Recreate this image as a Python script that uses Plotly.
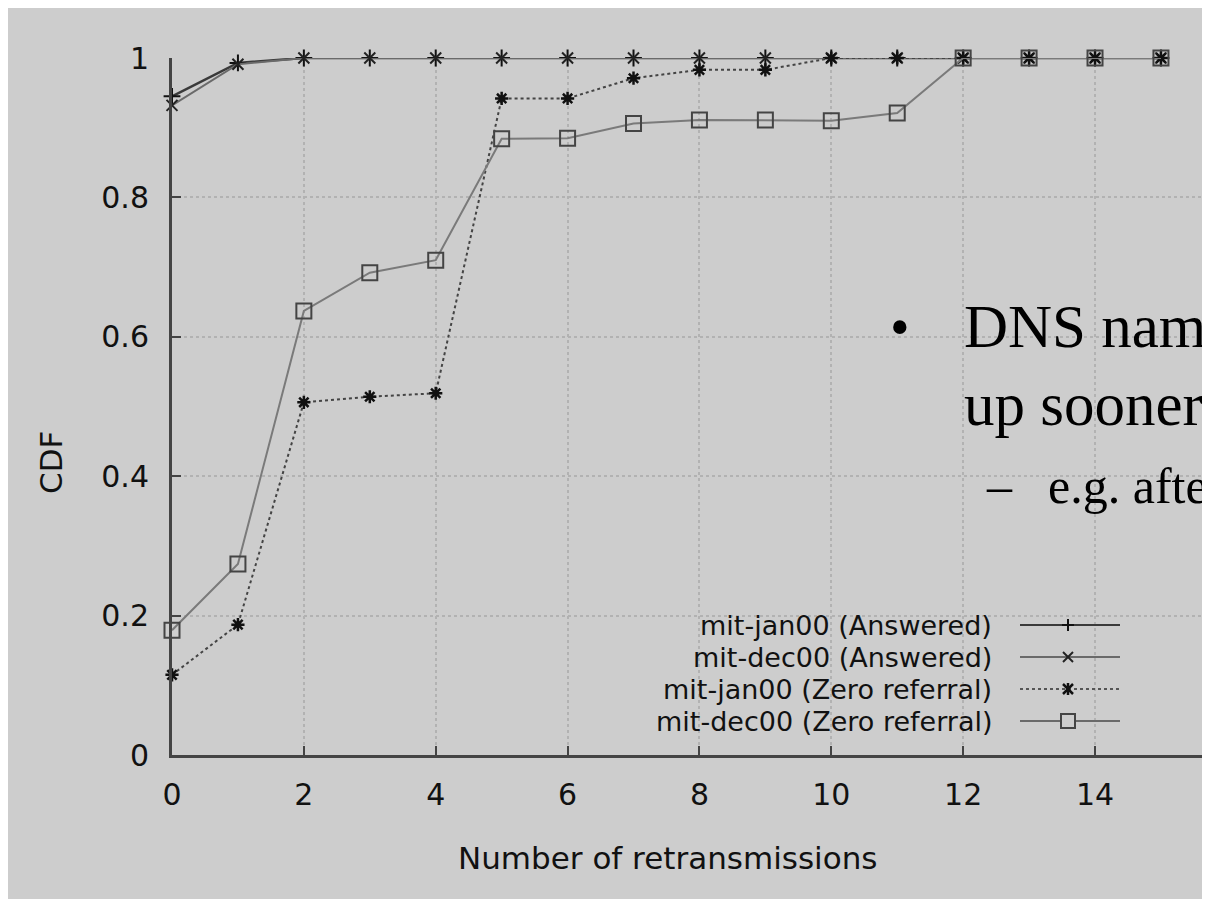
import plotly.graph_objects as go

# ---------------- data ----------------
retrans = list(range(16))
jan_answered = [0.945, 0.993, 1.0, 1.0, 1.0, 1.0, 1.0, 1.0, 1.0, 1.0, 1.0, 1.0, 1.0, 1.0, 1.0, 1.0]
dec_answered = [0.932, 0.991, 1.0, 1.0, 1.0, 1.0, 1.0, 1.0, 1.0, 1.0, 1.0, 1.0, 1.0, 1.0, 1.0, 1.0]
jan_zero = [0.115, 0.187, 0.506, 0.514, 0.519, 0.942, 0.942, 0.971, 0.983, 0.983, 1.0, 1.0, 1.0, 1.0, 1.0, 1.0]
dec_zero = [0.179, 0.274, 0.637, 0.692, 0.710, 0.884, 0.885, 0.906, 0.911, 0.911, 0.910, 0.921, 1.0, 1.0, 1.0, 1.0]

series_names = ["mit-jan00 (Answered)", "mit-dec00 (Answered)",
                "mit-jan00 (Zero referral)", "mit-dec00 (Zero referral)"]
x_ticks = [0, 2, 4, 6, 8, 10, 12, 14]
y_ticks = [0, 0.2, 0.4, 0.6, 0.8, 1.0]

# ---------------- geometry ----------------
# the page body adds an 8px offset; screen coords = figure coords + 8
OFF = 8
FW, FH = 1210, 899
L, T, B = 172, 58, 755          # plot-area edges in screen pixels
ML, MT = L - OFF, T - OFF       # margins in figure pixels
MB = FH - (B - OFF)
PW = FW - ML                    # plot width (right margin 0)
PH = B - T
XSCALE = 65.93                  # px per retransmission
BG = "#cdcdcd"
INK = "#111111"


def px(xs):
    return (xs - L) / PW


def py(ys):
    return (B - ys) / PH


fig = go.Figure()

fig.add_trace(go.Scatter(
    x=retrans, y=jan_answered, name=series_names[0], mode="lines+markers",
    line=dict(color="#3a3a3a", width=2.5),
    marker=dict(symbol="cross-thin-open", size=12, color="#111", line=dict(width=2, color="#111")),
    cliponaxis=False, showlegend=False))
fig.add_trace(go.Scatter(
    x=retrans, y=dec_answered, name=series_names[1], mode="lines+markers",
    line=dict(color="#6a6a6a", width=2),
    marker=dict(symbol="x-thin-open", size=11, color="#222", line=dict(width=2, color="#222")),
    cliponaxis=False, showlegend=False))
fig.add_trace(go.Scatter(
    x=retrans, y=jan_zero, name=series_names[2], mode="lines+markers",
    line=dict(color="#444", width=2, dash="dot"),
    marker=dict(symbol="asterisk-open", size=11, color="#111", line=dict(width=2.5, color="#111")),
    cliponaxis=False, showlegend=False))
fig.add_trace(go.Scatter(
    x=retrans, y=dec_zero, name=series_names[3], mode="lines+markers",
    line=dict(color="#7a7a7a", width=2),
    marker=dict(symbol="square-open", size=15, color="#444", line=dict(width=2, color="#444")),
    cliponaxis=False, showlegend=False))

shapes = []
# area behind the key, hiding the grid (as in the original)
shapes.append(dict(type="rect", xref="paper", yref="paper", layer="between",
                   x0=px(467), x1=px(1135), y0=py(753), y1=py(600),
                   fillcolor=BG, line=dict(width=0)))

# ---------------- custom key (text right-aligned, sample to the right) ----------------
key_rows_y = [625, 657, 689, 721]
key_line_styles = [
    dict(color="#3a3a3a", width=2, dash="solid"),
    dict(color="#6a6a6a", width=2, dash="solid"),
    dict(color="#555", width=2, dash="dot"),
    dict(color="#6a6a6a", width=2, dash="solid"),
]
key_markers = ["plus", "x", "star", "square"]
key_x0, key_x1, key_xm = 1020, 1120, 1068


def seg(xa, ya, dx0, dy0, dx1, dy1, color, width):
    return dict(type="line", xref="paper", yref="paper",
                xsizemode="pixel", ysizemode="pixel", xanchor=xa, yanchor=ya,
                x0=dx0, y0=dy0, x1=dx1, y1=dy1,
                line=dict(color=color, width=width), layer="above")


annotations = []
for i, name in enumerate(series_names):
    yy = py(key_rows_y[i])
    annotations.append(dict(text=name, x=px(993), y=yy, xref="paper", yref="paper",
                            xanchor="right", yanchor="middle", showarrow=False, borderpad=0,
                            font=dict(family="DejaVu Sans", size=27, color=INK)))
    shapes.append(dict(type="line", xref="paper", yref="paper",
                       x0=px(key_x0), x1=px(key_x1), y0=yy, y1=yy,
                       line=key_line_styles[i], layer="above"))
    xa = px(key_xm)
    kind = key_markers[i]
    if kind == "plus":
        shapes.append(seg(xa, yy, -6, 0, 6, 0, "#111", 2))
        shapes.append(seg(xa, yy, 0, -6, 0, 6, "#111", 2))
    elif kind == "x":
        shapes.append(seg(xa, yy, -5, -5, 5, 5, "#222", 2))
        shapes.append(seg(xa, yy, -5, 5, 5, -5, "#222", 2))
    elif kind == "star":
        shapes.append(seg(xa, yy, -5, -5, 5, 5, "#111", 2.5))
        shapes.append(seg(xa, yy, -5, 5, 5, -5, "#111", 2.5))
        shapes.append(seg(xa, yy, 0, -6, 0, 6, "#111", 2.5))
    else:
        shapes.append(dict(type="rect", xref="paper", yref="paper",
                           xsizemode="pixel", ysizemode="pixel", xanchor=xa, yanchor=yy,
                           x0=-7, x1=7, y0=-7, y1=7, fillcolor=BG,
                           line=dict(color="#444", width=2), layer="above"))

# axis titles
annotations.append(dict(text="Number of retransmissions", x=px(667), y=py(858),
                        xref="paper", yref="paper", xanchor="center", yanchor="middle",
                        showarrow=False, font=dict(family="DejaVu Sans", size=31, color=INK)))
annotations.append(dict(text="CDF", x=px(51), y=py(463), textangle=-90,
                        xref="paper", yref="paper", xanchor="center", yanchor="middle",
                        showarrow=False, font=dict(family="DejaVu Sans", size=31, color=INK)))

# slide text overlapping the picture
serif = "Liberation Serif"
annotations.append(dict(text="•", x=px(900), y=py(327), xref="paper", yref="paper",
                        xanchor="center", yanchor="middle", showarrow=False, borderpad=0,
                        font=dict(family=serif, size=56, color="#000")))
annotations.append(dict(text="DNS nam", x=px(963), y=py(326), xref="paper", yref="paper",
                        xanchor="left", yanchor="middle", showarrow=False, borderpad=0,
                        font=dict(family=serif, size=61, color="#000")))
annotations.append(dict(text="up sooner", x=px(963), y=py(404), xref="paper", yref="paper",
                        xanchor="left", yanchor="middle", showarrow=False, borderpad=0,
                        font=dict(family=serif, size=61, color="#000")))
annotations.append(dict(text="–", x=px(985), y=py(486), xref="paper", yref="paper",
                        xanchor="left", yanchor="middle", showarrow=False, borderpad=0,
                        font=dict(family=serif, size=50, color="#000")))
annotations.append(dict(text="e.g. afte", x=px(1047), y=py(486), xref="paper", yref="paper",
                        xanchor="left", yanchor="middle", showarrow=False, borderpad=0,
                        font=dict(family=serif, size=50, color="#000")))

axis_common = dict(
    showline=True, linecolor="#444", linewidth=3,
    ticks="inside", ticklen=9, tickwidth=2, tickcolor="#444",
    showgrid=True, gridcolor="#b2b2b2", gridwidth=2, griddash="dot",
    zeroline=False,
    tickfont=dict(family="DejaVu Sans", size=30, color=INK),
)

fig.update_layout(
    width=FW, height=FH, autosize=False,
    margin=dict(l=ML, r=0, t=MT, b=MB, pad=0),
    paper_bgcolor=BG, plot_bgcolor=BG,
    xaxis=dict(range=[0, PW / XSCALE], tickvals=x_ticks, ticklabelstandoff=11, **axis_common),
    yaxis=dict(range=[0, 1], tickvals=y_ticks, ticklabelstandoff=14, **axis_common),
    shapes=shapes, annotations=annotations, showlegend=False,
)

fig.write_html("out.html")
